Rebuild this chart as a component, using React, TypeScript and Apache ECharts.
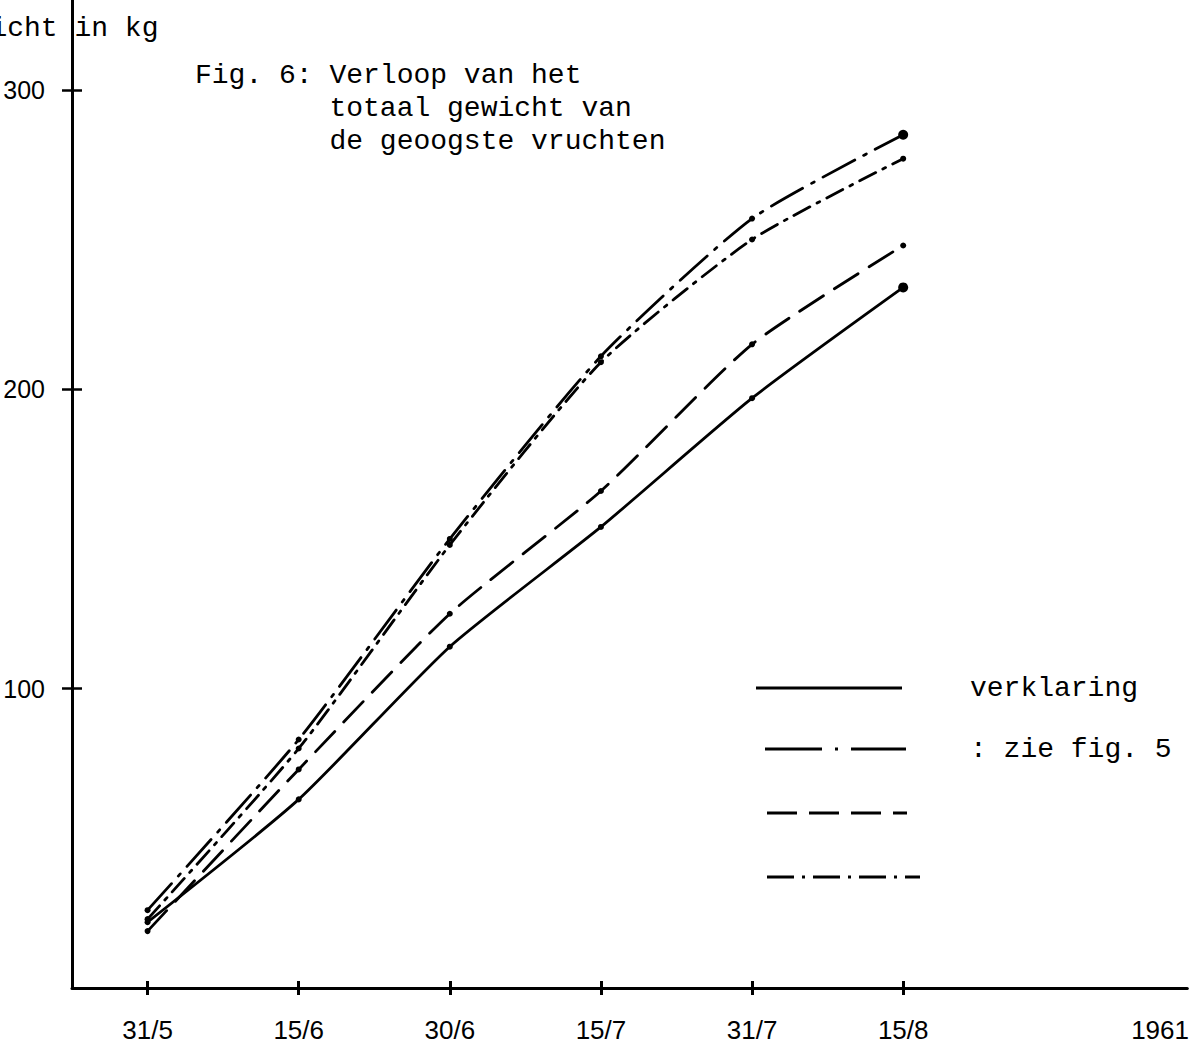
import React, { useEffect, useRef } from "react";
import * as echarts from "echarts";

// x positions (equal spacing per harvest date) and their labels
const xPos = [0, 1, 2, 3, 4, 5];
const dateLabels = ["31/5", "15/6", "30/6", "15/7", "31/7", "15/8"];
const yearPos = 6.7;
const yearLabel = "1961";

// total weight of harvested fruit (kg)
const solid = [22, 63, 114, 154, 197, 234];
const longDashDot = [26, 83, 150, 211, 257, 285];
const dashed = [19, 73, 125, 166, 215, 248];
const dashDot = [23, 80, 148, 209, 250, 277];

const yTickValues = [100, 200, 300];

const yAxisTitle = "gewicht in kg";
const titleLines = ["Fig. 6: Verloop van het", "        totaal gewicht van", "        de geoogste vruchten"];
const legendTextLines = ["verklaring", ": zie fig. 5"];

const MONO = '"Liberation Mono", "DejaVu Sans Mono", monospace';
const SANS = '"Liberation Sans", Arial, sans-serif';

function pairs(vals: number[]) {
  return vals.map((v, i) => [xPos[i], v]);
}

export default function App() {
  const ref = useRef<HTMLDivElement>(null);
  useEffect(() => {
    if (!ref.current) return;
    const chart = echarts.init(ref.current, null, { renderer: "svg" });
    const lineBase = (name: string, vals: number[], dash: any, bigEnd: boolean) => ({
      name,
      type: "line",
      data: pairs(vals),
      smooth: 0.2,
      symbol: "circle",
      symbolSize: (_v: any, p: any) => (bigEnd && p.dataIndex === vals.length - 1 ? 10 : 6),
      itemStyle: { color: "#000" },
      lineStyle: { color: "#000", width: 2.8, type: dash, cap: "round" },
      z: 3,
    });
    const option: any = {
      animation: false,
      backgroundColor: "#fff",
      grid: { left: 72, right: 0, top: 0, bottom: 60, containLabel: false },
      xAxis: [
        {
          type: "value",
          min: -0.5,
          max: 6.88,
          position: "bottom",
          axisLine: { show: true, onZero: false, lineStyle: { color: "#000", width: 3 } },
          axisTick: { show: true, customValues: xPos, length: 7, lineStyle: { color: "#000", width: 3 } },
          axisLabel: {
            customValues: [...xPos, yearPos],
            formatter: (v: number) => {
              const i = xPos.indexOf(v);
              return i >= 0 ? dateLabels[i] : yearLabel;
            },
            margin: 29,
            fontSize: 26,
            fontFamily: SANS,
            color: "#000",
          },
          splitLine: { show: false },
        },
        {
          type: "value",
          min: -0.5,
          max: 6.88,
          position: "bottom",
          offset: 0,
          axisLine: { show: false, onZero: false },
          axisTick: { show: true, inside: true, customValues: xPos, length: 7, lineStyle: { color: "#000", width: 3 } },
          axisLabel: { show: false },
          splitLine: { show: false },
        },
      ],
      yAxis: [
        {
          type: "value",
          min: 0,
          max: 330,
          position: "left",
          axisLine: { show: true, onZero: false, lineStyle: { color: "#000", width: 3 } },
          axisTick: { show: true, customValues: yTickValues, length: 10, lineStyle: { color: "#000", width: 2.5 } },
          axisLabel: {
            customValues: yTickValues,
            margin: 27,
            fontSize: 25,
            fontFamily: SANS,
            color: "#000",
          },
          splitLine: { show: false },
        },
        {
          type: "value",
          min: 0,
          max: 330,
          position: "left",
          offset: 0,
          axisLine: { show: false, onZero: false },
          axisTick: { show: true, inside: true, customValues: yTickValues, length: 10, lineStyle: { color: "#000", width: 2.5 } },
          axisLabel: { show: false },
          splitLine: { show: false },
        },
      ],
      series: [
        lineBase("1", solid, "solid", true),
        lineBase("2", longDashDot, [36, 10, 3, 10], true),
        lineBase("3", dashed, [28, 13], false),
        lineBase("4", dashDot, [18, 8, 3, 8], false),
      ],
      graphic: [
        {
          type: "text",
          x: -60,
          y: 28,
          style: { text: yAxisTitle, fontSize: 28, fontFamily: MONO, fill: "#000", verticalAlign: "middle" },
        },
        {
          type: "text",
          x: 195,
          y: 59,
          style: {
            text: titleLines.join("\n"),
            fontSize: 28,
            lineHeight: 33,
            fontFamily: MONO,
            fill: "#000",
            verticalAlign: "top",
          },
        },
        {
          type: "text",
          x: 970,
          y: 688,
          style: { text: legendTextLines[0], fontSize: 28, fontFamily: MONO, fill: "#000", verticalAlign: "middle" },
        },
        {
          type: "text",
          x: 970,
          y: 749,
          style: { text: legendTextLines[1], fontSize: 28, fontFamily: MONO, fill: "#000", verticalAlign: "middle" },
        },
        {
          type: "line",
          shape: { x1: 756, y1: 688, x2: 902, y2: 688 },
          style: { stroke: "#000", lineWidth: 3 },
        },
        {
          type: "line",
          shape: { x1: 765, y1: 749, x2: 906, y2: 749 },
          style: { stroke: "#000", lineWidth: 3, lineDash: [57, 13, 3, 13] },
        },
        {
          type: "line",
          shape: { x1: 767, y1: 813, x2: 907, y2: 813 },
          style: { stroke: "#000", lineWidth: 3, lineDash: [30, 12] },
        },
        {
          type: "line",
          shape: { x1: 767, y1: 877, x2: 920, y2: 877 },
          style: { stroke: "#000", lineWidth: 3, lineDash: [27, 8, 3, 8] },
        },
      ],
    };
    chart.setOption(option);
    return () => chart.dispose();
  }, []);
  return <div ref={ref} style={{ width: 1192, height: 1048, position: "absolute", left: 0, top: 0 }} />;
}
